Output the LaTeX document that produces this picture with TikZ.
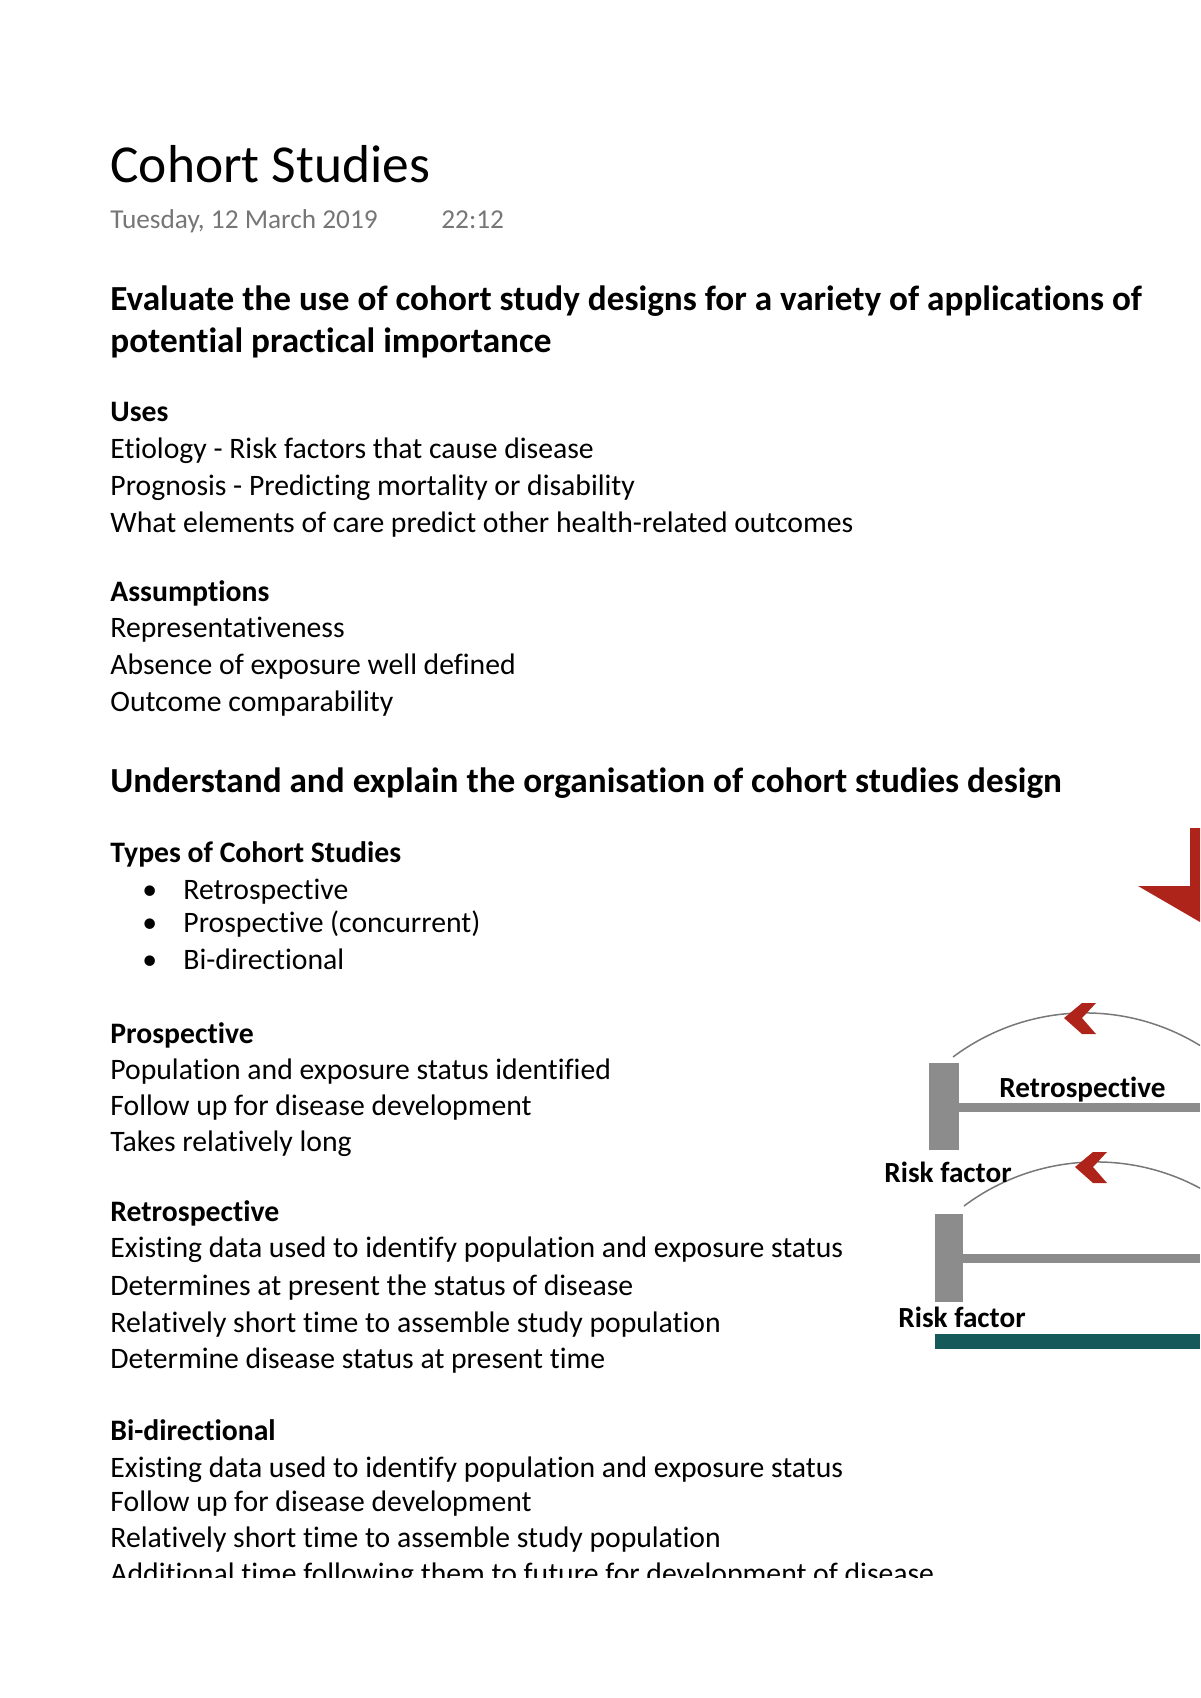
\documentclass[tikz,border=0pt]{standalone}
\usepackage{fontspec}
\setmainfont{Carlito}[Ligatures=NoCommon]
\definecolor{dategray}{RGB}{118,118,118}
\definecolor{arrowred}{RGB}{175,36,26}
\definecolor{bargray}{RGB}{140,140,140}
\definecolor{arcgray}{RGB}{120,120,120}
\definecolor{darkteal}{RGB}{22,89,90}
\begin{document}
\begin{tikzpicture}[x=0.5pt,y=-0.5pt,
    txt/.style={anchor=base west,inner sep=0pt},
    body/.style={txt,font=\fontsize{14.85}{17}\selectfont},
    bodyb/.style={txt,font=\fontsize{14.85}{17}\selectfont\bfseries},
    head/.style={txt,font=\fontsize{17.6}{21}\selectfont\bfseries},
    date/.style={txt,text=dategray,font=\fontsize{13.65}{16}\selectfont},
    lbl/.style={txt,font=\fontsize{14.6}{17}\selectfont\bfseries},
    bar/.style={fill=bargray},
    chev/.style={fill=arrowred}]
  \useasboundingbox (0,0) rectangle (1200,1698);
  \clip (0,0) rectangle (1200,1698);
  % title and date
  \node[txt,font=\fontsize{26.7}{30}\selectfont] (title) at (110,182.5) {Cohort Studies};
  \node[date] (day) at (110,228.5) {Tuesday, 12 March 2019};
  \node[date] (time) at (441,228.5) {22:12};
  \node[head] (eval1) at (110,310) {Evaluate the use of cohort study designs for a variety of applications of};
  \node[head] (eval2) at (110,352) {potential practical importance};
  % uses and assumptions
  \node[bodyb] (uses) at (110,421) {Uses};
  \foreach \y/\t [count=\i] in {458/Etiology - Risk factors that cause disease,
    495/Prognosis - Predicting mortality or disability,
    532/What elements of care predict other health-related outcomes}
    \node[body] (use\i) at (110,\y) {\t};
  \node[bodyb] (assum) at (110,601) {Assumptions};
  \foreach \y/\t [count=\i] in {637/Representativeness,
    674/Absence of exposure well defined,
    711.5/Outcome comparability}
    \node[body] (asm\i) at (110,\y) {\t};
  \node[head] (organ) at (110,792) {Understand and explain the organisation of cohort studies design};
  % types
  \node[bodyb] (types) at (110,862) {Types of Cohort Studies};
  \foreach \y/\t [count=\i] in {899/Retrospective,
    932.5/Prospective (concurrent),
    969/Bi-directional}
    {\node[body] (dot\i) at (142,\y) {\textbullet};
     \node[body] (typ\i) at (183,\y) {\t};}
  \node[bodyb] (pros) at (110,1043) {Prospective};
  \foreach \y/\t [count=\i] in {1079/Population and exposure status identified,
    1115.5/Follow up for disease development,
    1151/Takes relatively long}
    \node[body] (pro\i) at (110,\y) {\t};
  \node[bodyb] (retro) at (110,1221.6) {Retrospective};
  \foreach \y/\t [count=\i] in {1257/Existing data used to identify population and exposure status,
    1295/Determines at present the status of disease,
    1332/Relatively short time to assemble study population,
    1368/Determine disease status at present time}
    \node[body] (ret\i) at (110,\y) {\t};
  \node[bodyb] (bidir) at (110,1440) {Bi-directional};
  \foreach \y/\t [count=\i] in {1477/Existing data used to identify population and exposure status,
    1511/Follow up for disease development,
    1547.6/Relatively short time to assemble study population}
    \node[body] (bid\i) at (110,\y) {\t};
  \begin{scope}
    \clip (0,0) rectangle (1200,1577);
    \node[body] (bid4) at (110,1583) {Additional time following them to future for development of disease};
  \end{scope}
  % diagram
  \fill[arrowred] (1190,828) -- (1200,828) -- (1200,922) -- (1138,886) -- (1190,886) -- cycle;
  \foreach \dx/\dy in {0/0,11/149}
  {
    \draw[arcgray,line width=0.75pt] (953+\dx,1057+\dy) .. controls (1025+\dx,1003+\dy)
      and (1123+\dx,998+\dy) .. (1200+\dx,1045.5+\dy);
    \fill[chev] (1064+\dx,1018+\dy) -- (1082+\dx,1003+\dy) -- (1096+\dx,1003+\dy)
      -- (1082+\dx,1018+\dy) -- (1096+\dx,1034+\dy) -- (1082+\dx,1034+\dy) -- cycle;
  }
  \fill[bar] (929,1063) rectangle (959,1150);
  \fill[bar] (959,1103) rectangle (1200,1112);
  \fill[bar] (935,1214) rectangle (963,1302);
  \fill[bar] (963,1254) rectangle (1200,1263);
  \fill[darkteal] (935,1334) rectangle (1200,1349);
  \node[lbl] (retlbl) at (999,1097) {Retrospective};
  \node[lbl] (risk1) at (884,1182) {Risk factor};
  \node[lbl] (risk2) at (898,1327) {Risk factor};
\end{tikzpicture}
\end{document}
